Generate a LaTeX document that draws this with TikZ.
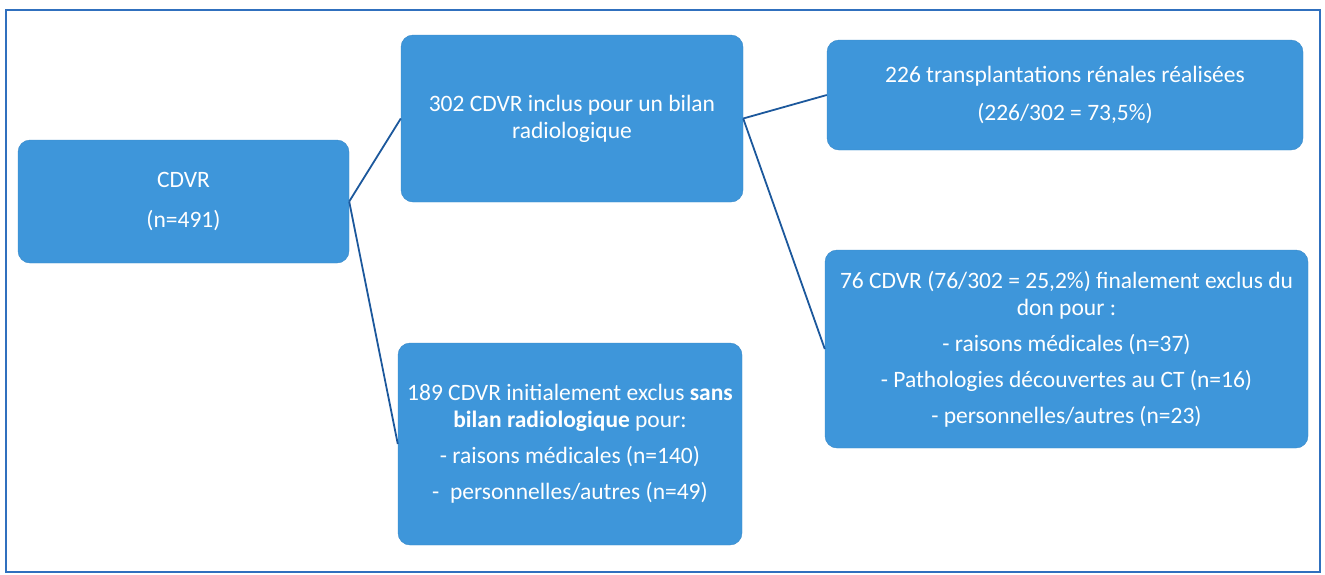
\documentclass[tikz,border=0pt]{standalone}
\usepackage{fontspec}
\setmainfont{Carlito}
\usetikzlibrary{positioning}
\definecolor{boxblue}{RGB}{62,150,218}
\definecolor{linkblue}{RGB}{28,88,156}
\definecolor{frameblue}{RGB}{48,112,190}

\begin{document}
\begin{tikzpicture}[x=1pt, y=-1pt,
    box/.style={draw=boxblue!92!black, fill=boxblue, rounded corners=12pt,
                text=white, align=center, inner sep=0pt,
                font=\fontsize{23.5}{27}\selectfont},
    link/.style={draw=linkblue, line width=1.8pt},
]

% Frame
\useasboundingbox (0,0) rectangle (1325,574);
\draw[frameblue, line width=2.2pt] (6,10) rectangle (1320,572);

% Boxes
\node[box, minimum width=331pt, minimum height=123pt] (cdvr) at (183.5,201.5)
    {CDVR\\[13pt](n=491)};
\node[box, minimum width=342pt, minimum height=167pt] (incl) at (572,118.5)
    {302 CDVR inclus pour un bilan\\radiologique};
\node[box, minimum width=344pt, minimum height=202pt] (excl) at (570,444)
    {189 CDVR initialement exclus \textbf{sans}\\\textbf{bilan radiologique} pour:\\[9pt]
     - raisons médicales (n=140)\\[9pt]-~ personnelles/autres (n=49)};
\node[box, minimum width=476pt, minimum height=110pt] (transp) at (1065,95)
    {226 transplantations rénales réalisées\\[11pt](226/302 = 73,5\%)};
\node[box, minimum width=483pt, minimum height=198pt] (final) at (1066.5,349)
    {76 CDVR (76/302 = 25,2\%) finalement exclus du\\don pour :\\[9pt]
     - raisons médicales (n=37)\\[9pt]- Pathologies découvertes au CT (n=16)\\[9pt]
     - personnelles/autres (n=23)};

% Connectors
\draw[link] (cdvr.east) -- (incl.west);
\draw[link] (cdvr.east) -- (excl.west);
\draw[link] (incl.east) -- (transp.west);
\draw[link] (incl.east) -- (final.west);

\end{tikzpicture}
\end{document}
